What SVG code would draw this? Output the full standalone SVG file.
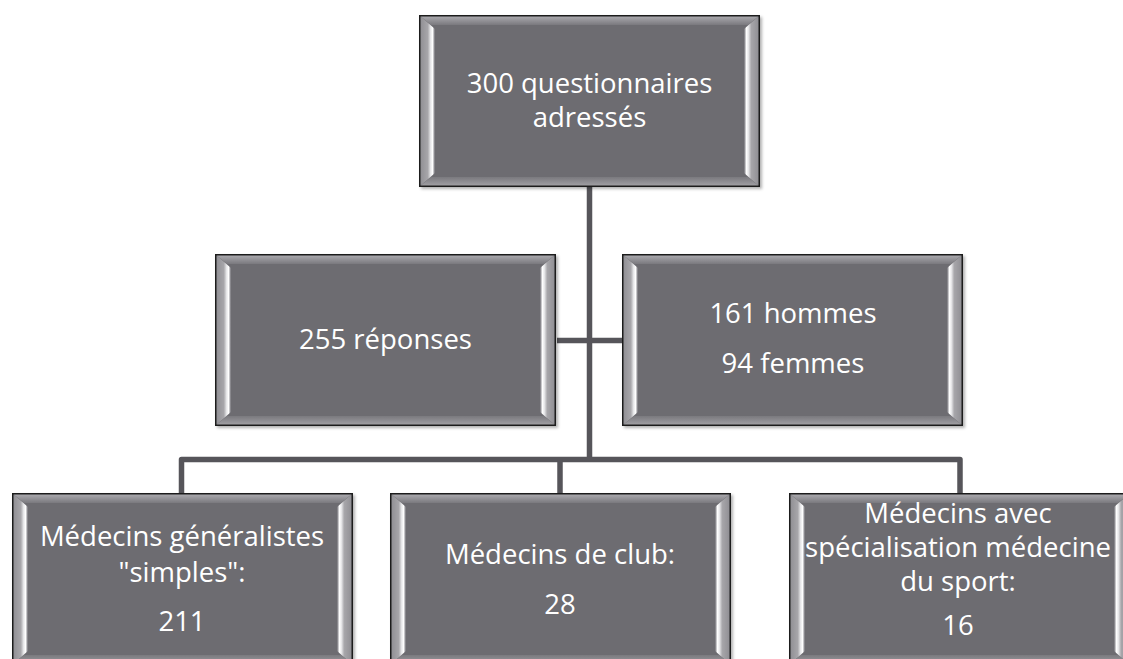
<svg xmlns="http://www.w3.org/2000/svg" xmlns:xlink="http://www.w3.org/1999/xlink" width="1123" height="659" viewBox="0 0 1123 659">
  <style>
    .lbl { font-family: "Open Sans", "Liberation Sans", sans-serif; font-size: 27.5px; fill: #ffffff; text-anchor: middle; }
    .conn { fill: none; stroke: #56555a; stroke-width: 5.5; stroke-linejoin: round; }
  </style>
  <defs>
    <linearGradient id="gTop" x1="0" y1="0" x2="0" y2="1">
      <stop offset="0" stop-color="#b2b1b5"/>
      <stop offset="1" stop-color="#7a797e"/>
    </linearGradient>
    <linearGradient id="gBot" x1="0" y1="0" x2="0" y2="1">
      <stop offset="0" stop-color="#7a797e"/>
      <stop offset="1" stop-color="#a6a5a9"/>
    </linearGradient>
    <linearGradient id="gLeft" x1="0" y1="0" x2="1" y2="0">
      <stop offset="0" stop-color="#8c8b90"/>
      <stop offset="0.55" stop-color="#a7a6aa"/>
      <stop offset="0.72" stop-color="#e6e6e8"/>
      <stop offset="0.85" stop-color="#ffffff"/>
      <stop offset="0.95" stop-color="#9a999e"/>
      <stop offset="1" stop-color="#6d6c71"/>
    </linearGradient>
    <linearGradient id="gRight" x1="1" y1="0" x2="0" y2="0">
      <stop offset="0" stop-color="#8c8b90"/>
      <stop offset="0.55" stop-color="#a7a6aa"/>
      <stop offset="0.72" stop-color="#e6e6e8"/>
      <stop offset="0.85" stop-color="#ffffff"/>
      <stop offset="0.95" stop-color="#9a999e"/>
      <stop offset="1" stop-color="#6d6c71"/>
    </linearGradient>
    <filter id="shadow" x="-5%" y="-5%" width="115%" height="115%">
      <feDropShadow dx="2" dy="2" stdDeviation="1.5" flood-color="#000" flood-opacity="0.3"/>
    </filter>
    <g id="box">
      <rect x="0" y="0" width="341" height="172" fill="#6d6c71"/>
      <polygon points="0,0 341,0 329,10 12,10" fill="url(#gTop)"/>
      <polygon points="0,172 341,172 329,162 12,162" fill="url(#gBot)"/>
      <polygon points="0,0 16,14 16,158 0,172" fill="url(#gLeft)"/>
      <polygon points="341,0 325,14 325,158 341,172" fill="url(#gRight)"/>
      <rect x="0.75" y="0.75" width="339.5" height="170.5" fill="none" stroke="#1c1c1e" stroke-width="1.5"/>
    </g>
  </defs>

  <rect x="0" y="0" width="1123" height="659" fill="#ffffff"/>

  <g id="connectors">
    <path class="conn" d="M589.5 187 V459.5"/>
    <path class="conn" d="M557 340.5 H623"/>
    <path class="conn" d="M181.5 493 V459.5 H960 V493"/>
    <path class="conn" d="M560 459.5 V493"/>
  </g>

  <g id="node-questionnaires">
    <use xlink:href="#box" href="#box" transform="translate(419,15)" filter="url(#shadow)"/>
    <text class="lbl" x="589.5" y="93">300 questionnaires</text>
    <text class="lbl" x="589.5" y="127">adressés</text>
  </g>

  <g id="node-reponses">
    <use xlink:href="#box" href="#box" transform="translate(215,254)" filter="url(#shadow)"/>
    <text class="lbl" x="385.5" y="349">255 réponses</text>
  </g>

  <g id="node-sexe">
    <use xlink:href="#box" href="#box" transform="translate(622,254)" filter="url(#shadow)"/>
    <text class="lbl" x="793" y="323">161 hommes</text>
    <text class="lbl" x="793" y="373">94 femmes</text>
  </g>

  <g id="node-generalistes">
    <use xlink:href="#box" href="#box" transform="translate(12,493)" filter="url(#shadow)"/>
    <text class="lbl" x="182" y="546">Médecins généralistes</text>
    <text class="lbl" x="182" y="582">"simples":</text>
    <text class="lbl" x="182" y="631">211</text>
  </g>

  <g id="node-club">
    <use xlink:href="#box" href="#box" transform="translate(390,493)" filter="url(#shadow)"/>
    <text class="lbl" x="560" y="564">Médecins de club:</text>
    <text class="lbl" x="560" y="614">28</text>
  </g>

  <g id="node-sport">
    <use xlink:href="#box" href="#box" transform="translate(789,493)" filter="url(#shadow)"/>
    <text class="lbl" x="958" y="523">Médecins avec</text>
    <text class="lbl" x="958" y="557">spécialisation médecine</text>
    <text class="lbl" x="958" y="591">du sport:</text>
    <text class="lbl" x="958" y="635">16</text>
  </g>
</svg>
